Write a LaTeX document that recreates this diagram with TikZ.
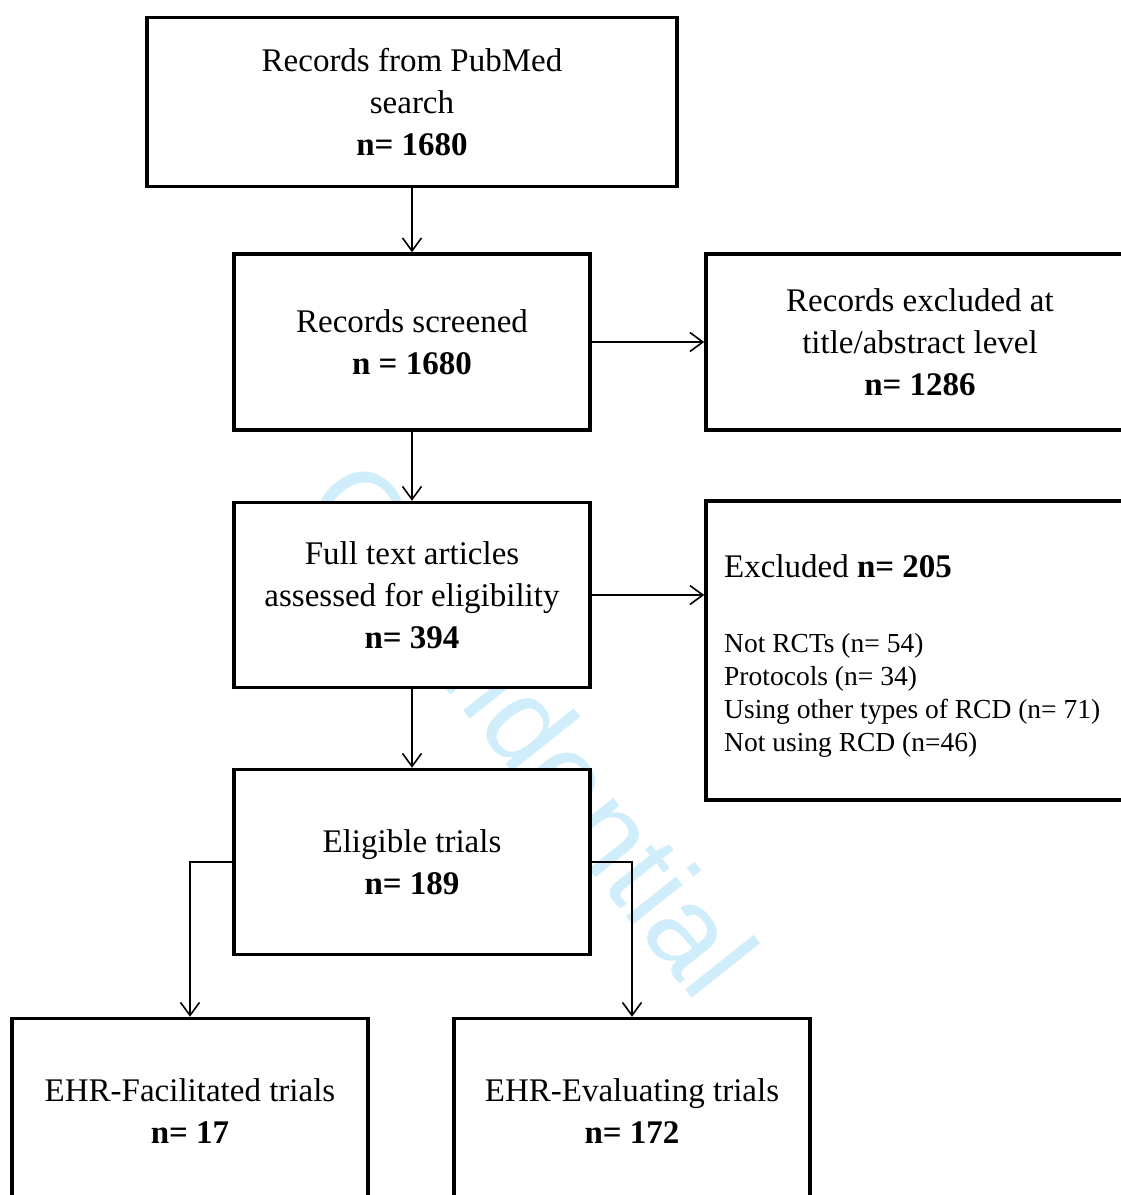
\documentclass[tikz,border=0pt]{standalone}
\usepackage{fontspec}
\setmainfont{Liberation Serif}
\newfontfamily\wmfont{Liberation Sans}
\usetikzlibrary{arrows.meta}
\definecolor{wm}{RGB}{208,237,251}
\begin{document}
\begin{tikzpicture}[x=1pt,y=-1pt,
  box/.style={draw, fill=white, line width=3.5pt, align=center, inner sep=0pt,
    font=\fontsize{33}{42}\selectfont},
  arr/.style={line width=1.6pt,
    -{Straight Barb[length=13pt,width=19pt,line width=1.6pt]}},
  listtxt/.style={anchor=north west, align=left, inner sep=0pt,
    font=\fontsize{27.5}{33}\selectfont}]
\useasboundingbox (0,0) rectangle (1121,1195);
\clip (0,0) rectangle (1121,1195);
\node[rotate=-51.5, text=wm, font=\wmfont\fontsize{121}{121}\selectfont] (wmark) at (532,728) {Confidential};

\node[box, minimum width=530pt, minimum height=169pt] (search) at (412,102)
  {Records from PubMed\\search\\\textbf{n= 1680}};
\node[box, minimum width=356pt, minimum height=176pt] (screen) at (412,342)
  {Records screened\\\textbf{n = 1680}};
\node[box, minimum width=428pt, minimum height=176pt] (exclA) at (920,342)
  {Records excluded at\\title/abstract level\\\textbf{n= 1286}};
\node[box, minimum width=356pt, minimum height=185pt] (full) at (412,595)
  {Full text articles\\assessed for eligibility\\\textbf{n= 394}};
\node[box, minimum width=428pt, minimum height=299pt] (exclB) at (920,650.5) {};
\node[anchor=west, inner sep=0pt, font=\fontsize{33}{42}\selectfont] (exclBhead) at (724,566)
  {Excluded \textbf{n= 205}};
\node[listtxt] (exclBlist) at (724,633)
  {Not RCTs (n= 54)\\Protocols (n= 34)\\Using other types of RCD (n= 71)\\Not using RCD (n=46)};
\node[box, minimum width=356pt, minimum height=185pt] (elig) at (412,862)
  {Eligible trials\\\textbf{n= 189}};
\node[box, minimum width=356pt, minimum height=185pt] (fac) at (190,1111)
  {EHR-Facilitated trials\\\textbf{n= 17}};
\node[box, minimum width=356pt, minimum height=185pt] (eva) at (632,1111)
  {EHR-Evaluating trials\\\textbf{n= 172}};

\draw[arr] (search.south) -- (screen.north);
\draw[arr] (screen.south) -- (full.north);
\draw[arr] (full.south) -- (elig.north);
\draw[arr] (screen.east) -- (exclA.west);
\draw[arr] (full.east) -- (full.east -| exclB.west);
\draw[arr] (elig.west) -| (fac.north);
\draw[arr] (elig.east) -| (eva.north);
\end{tikzpicture}
\end{document}
